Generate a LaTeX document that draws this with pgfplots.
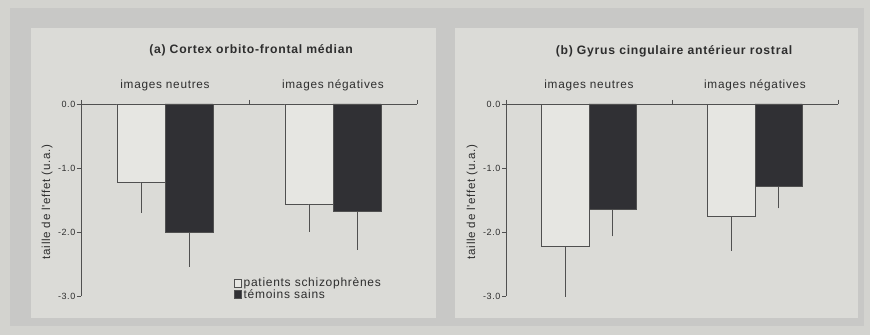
\documentclass[border=0pt]{standalone}
\usepackage{fontspec}
\setmainfont{Liberation Sans}
\newfontfamily\ls[LetterSpace=6]{Liberation Sans}
\usepackage{pgfplots}
\pgfplotsset{compat=1.18}
\definecolor{bgout}{HTML}{D3D3CF}
\definecolor{bgband}{HTML}{C8C8C6}
\definecolor{panel}{HTML}{DBDBD7}
\definecolor{wbar}{HTML}{E6E6E2}
\definecolor{dbar}{HTML}{303034}
\definecolor{axc}{HTML}{505050}
\definecolor{txt}{HTML}{2E2E2E}
\pgfplotsset{
  panel/.style={
    scale only axis, height=192pt,
    xmin=0, xmax=2, ymin=-3, ymax=0,
    axis x line*=top, axis y line*=left,
    axis line style={draw=axc, line width=0.8pt},
    every tick/.style={draw=axc, line width=0.8pt},
    xtick={0,1,2}, xticklabels={}, xtick align=center, major tick length=4pt,
    ytick={0,-1,-2,-3}, ytick align=outside,
    yticklabel style={font=\ls\fontsize{9}{10}\selectfont, text=txt, inner sep=1.5pt},
    /pgf/number format/.cd, fixed, fixed zerofill, precision=1, assume math mode=true,
    /pgfplots/.cd,
    extra x ticks={0.5,1.5},
    extra x tick labels={images neutres, images négatives},
    extra x tick style={major tick length=0pt,
      tick label style={yshift=10pt, font=\ls\fontsize{11.8}{13}\selectfont, text=txt}},
    ybar, bar width=0.286, clip=false,
    error bars/y dir=minus, error bars/y explicit,
    error bars/error mark=none,
    error bars/error bar style={draw=axc, line width=0.7pt},
  }
}
\begin{document}
\begin{tikzpicture}[x=1pt,y=1pt]
\useasboundingbox (0,0) rectangle (870,335);
\fill[bgout] (0,0) rectangle (870,335);
\fill[bgband] (10,9) rectangle (864,327);
\fill[panel] (31,17) rectangle (436,307);
\fill[panel] (455,17) rectangle (858,307);

\node[font=\ls\bfseries\fontsize{12.2}{14}\selectfont, text=txt] at (251,285) {(a) Cortex orbito-frontal médian};
\node[font=\ls\bfseries\fontsize{12.2}{14}\selectfont, text=txt] at (674,284) {(b) Gyrus cingulaire antérieur rostral};
\node[font=\ls\fontsize{11.6}{13}\selectfont, text=txt, rotate=90] at (47,133) {taille de l'effet (u.a.)};
\node[font=\ls\fontsize{11.6}{13}\selectfont, text=txt, rotate=90] at (472,133) {taille de l'effet (u.a.)};

\begin{axis}[panel, width=336pt, at={(81pt,39pt)}, anchor=south west,
  legend style={at={(0.455,0.105)}, anchor=north west, draw=none, fill=none,
    inner sep=0pt, font=\ls\fontsize{12}{11}\selectfont, text=txt,
    row sep=-3pt, cells={anchor=west}},
  legend image code/.code={\draw[#1, draw=axc, line width=0.6pt] (0pt,-3.8pt) rectangle (7pt,3.8pt);},
  legend cell align=left]
\addplot[fill=wbar, draw=axc, line width=0.6pt, bar shift=-0.143]
  coordinates {(0.5,-1.22) +- (0,0.48) (1.5,-1.56) +- (0,0.44)};
\addlegendentry{patients schizophrènes}
\addplot[fill=dbar, draw=axc, line width=0.6pt, bar shift=0.143]
  coordinates {(0.5,-2.00) +- (0,0.54) (1.5,-1.68) +- (0,0.60)};
\addlegendentry{témoins sains}
\end{axis}

\begin{axis}[panel, width=332pt, at={(506pt,39pt)}, anchor=south west]
\addplot[fill=wbar, draw=axc, line width=0.6pt, bar shift=-0.143]
  coordinates {(0.5,-2.22) +- (0,0.80) (1.5,-1.76) +- (0,0.53)};
\addplot[fill=dbar, draw=axc, line width=0.6pt, bar shift=0.143]
  coordinates {(0.5,-1.65) +- (0,0.42) (1.5,-1.29) +- (0,0.34)};
\end{axis}
\end{tikzpicture}
\end{document}
